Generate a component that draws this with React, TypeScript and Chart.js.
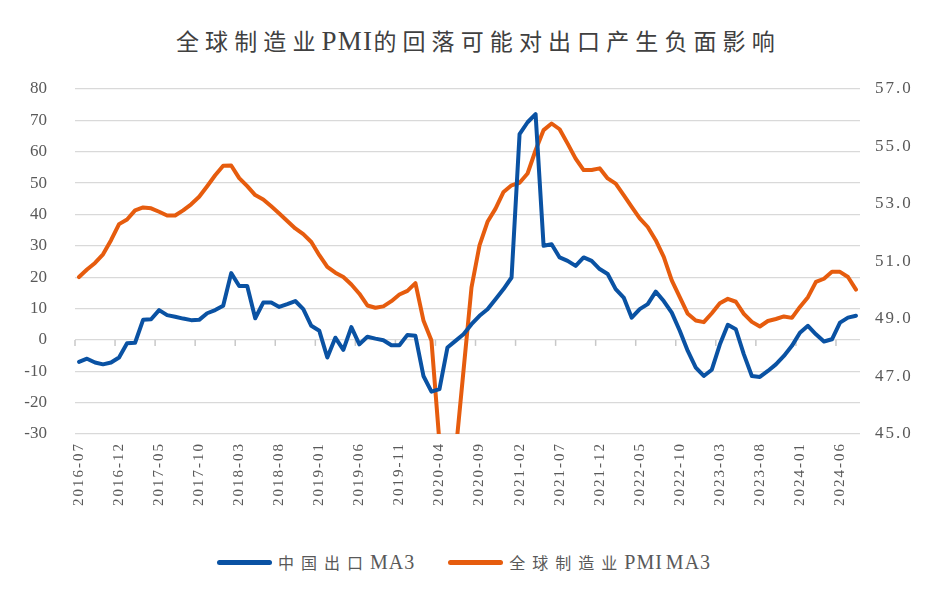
import { useEffect, useRef } from 'react';
import { Chart, registerables, CategoryScale, LinearScale } from 'chart.js';

class SpacedCategoryScale extends CategoryScale {
  static id = 'spacedCategory';
  static defaults = CategoryScale.defaults;
  drawLabels(chartArea: any) {
    const ctx = this.ctx as any;
    ctx.save();
    ctx.letterSpacing = '2px';
    super.drawLabels(chartArea);
    ctx.restore();
  }
}

class SpacedLinearScale extends LinearScale {
  static id = 'spacedLinear';
  static defaults = LinearScale.defaults;
  drawLabels(chartArea: any) {
    const ctx = this.ctx as any;
    ctx.save();
    ctx.letterSpacing = '2px';
    super.drawLabels(chartArea);
    ctx.restore();
  }
}

Chart.register(...registerables, SpacedCategoryScale, SpacedLinearScale);

const categories = [
  '2016-07', '2016-08', '2016-09', '2016-10', '2016-11', '2016-12',
  '2017-01', '2017-02', '2017-03', '2017-04', '2017-05', '2017-06', '2017-07', '2017-08', '2017-09', '2017-10', '2017-11', '2017-12',
  '2018-01', '2018-02', '2018-03', '2018-04', '2018-05', '2018-06', '2018-07', '2018-08', '2018-09', '2018-10', '2018-11', '2018-12',
  '2019-01', '2019-02', '2019-03', '2019-04', '2019-05', '2019-06', '2019-07', '2019-08', '2019-09', '2019-10', '2019-11', '2019-12',
  '2020-01', '2020-02', '2020-03', '2020-04', '2020-05', '2020-06', '2020-07', '2020-08', '2020-09', '2020-10', '2020-11', '2020-12',
  '2021-01', '2021-02', '2021-03', '2021-04', '2021-05', '2021-06', '2021-07', '2021-08', '2021-09', '2021-10', '2021-11', '2021-12',
  '2022-01', '2022-02', '2022-03', '2022-04', '2022-05', '2022-06', '2022-07', '2022-08', '2022-09', '2022-10', '2022-11', '2022-12',
  '2023-01', '2023-02', '2023-03', '2023-04', '2023-05', '2023-06', '2023-07', '2023-08', '2023-09', '2023-10', '2023-11', '2023-12',
  '2024-01', '2024-02', '2024-03', '2024-04', '2024-05', '2024-06', '2024-07', '2024-08',
];

// 中国出口MA3 (%), left axis
const chinaExportMA3 = [
  -7.0, -6.0, -7.2, -7.8, -7.2, -5.6,
  -1.1, -0.9, 6.4, 6.6, 9.5, 7.9, 7.4, 6.8, 6.3, 6.4, 8.5, 9.5,
  10.9, 21.3, 17.2, 17.2, 6.9, 11.9, 11.9, 10.5, 11.4, 12.4, 9.8, 4.5,
  2.9, -5.6, 0.7, -3.2, 4.1, -1.4, 1.0, 0.4, -0.1, -1.7, -1.7, 1.6,
  1.3, -11.5, -16.5, -15.7, -2.4, -0.3, 1.8, 5.0, 7.7, 9.8, 13.0, 16.2,
  19.9, 65.6, 69.4, 72.0, 30.0, 30.5, 26.3, 25.2, 23.6, 26.3, 25.2, 22.6,
  21.0, 16.2, 13.5, 7.1, 9.8, 11.4, 15.4, 12.4, 8.7, 2.9, -3.5, -8.8,
  -11.5, -9.5, -1.5, 4.8, 3.4, -4.6, -11.5, -11.8, -9.9, -7.8, -5.1, -1.9,
  2.3, 4.5, 1.8, -0.5, 0.2, 5.5, 7.1, 7.7,
];

// 全球制造业PMI MA3, right axis
const globalPmiMA3 = [
  50.46, 50.72, 50.95, 51.25, 51.74, 52.3,
  52.46, 52.78, 52.88, 52.85, 52.73, 52.6, 52.6, 52.78, 52.99, 53.25, 53.62, 54.0,
  54.33, 54.34, 53.9, 53.62, 53.31, 53.16, 52.92, 52.67, 52.41, 52.15, 51.95, 51.68,
  51.22, 50.81, 50.61, 50.46, 50.2, 49.88, 49.47, 49.39, 49.44, 49.62, 49.85, 49.98,
  50.25, 48.95, 48.25, 44.7, 43.2, 44.3, 47.2, 50.1, 51.56, 52.38, 52.84, 53.42,
  53.65, 53.74, 54.06, 54.87, 55.57, 55.8, 55.6, 55.1, 54.58, 54.18, 54.18, 54.24,
  53.89, 53.71, 53.31, 52.9, 52.5, 52.2, 51.74, 51.16, 50.34, 49.76, 49.18, 48.95,
  48.89, 49.2, 49.55, 49.7, 49.6, 49.18, 48.9, 48.74, 48.93, 49.0, 49.09, 49.04,
  49.42, 49.76, 50.29, 50.4, 50.64, 50.64, 50.46, 50.02,
];

const leftMin = -30;
const leftMax = 80;
const leftStep = 10;
const rightMin = 45;
const rightMax = 57;
const rightStep = 2;
const labelEvery = 5;

const BLUE = '#0A52A3';
const ORANGE = '#E65C0E';
const TEXT = '#595959';
const SERIF = "'Liberation Serif', 'Times New Roman', serif";
const CJK = "'Noto Sans CJK SC', sans-serif";

const zeroTicksPlugin = {
  id: 'zeroTicks',
  beforeDatasetsDraw(chart: any) {
    const x = chart.scales.x;
    const y = chart.scales.y;
    const ctx = chart.ctx;
    const half = (x.getPixelForValue(1) - x.getPixelForValue(0)) / 2;
    const y0 = y.getPixelForValue(0);
    ctx.save();
    ctx.strokeStyle = '#c8c8c8';
    ctx.lineWidth = 1.5;
    for (let i = 0; i < categories.length; i += labelEvery) {
      const px = x.getPixelForValue(i) - half;
      ctx.beginPath();
      ctx.moveTo(px, y0);
      ctx.lineTo(px, y0 + 6);
      ctx.stroke();
    }
    ctx.restore();
  },
};

export default function App() {
  const ref = useRef<HTMLCanvasElement>(null);

  useEffect(() => {
    const chart = new Chart(ref.current as HTMLCanvasElement, {
      type: 'line',
      data: {
        labels: categories,
        datasets: [
          {
            label: '中国出口MA3',
            data: chinaExportMA3,
            borderColor: BLUE,
            backgroundColor: BLUE,
            borderWidth: 4,
            pointRadius: 0,
            tension: 0,
            borderJoinStyle: 'round',
            borderCapStyle: 'round',
            yAxisID: 'y',
          },
          {
            label: '全球制造业PMI MA3',
            data: globalPmiMA3,
            borderColor: ORANGE,
            backgroundColor: ORANGE,
            borderWidth: 4,
            pointRadius: 0,
            tension: 0,
            borderJoinStyle: 'round',
            borderCapStyle: 'round',
            yAxisID: 'y1',
          },
        ],
      },
      options: {
        animation: false,
        responsive: true,
        maintainAspectRatio: false,
        layout: { padding: { top: 89, left: 0, right: 0, bottom: 0 } },
        plugins: {
          legend: { display: false },
          title: { display: false },
          tooltip: { enabled: false },
        },
        scales: {
          x: {
            type: 'spacedCategory' as any,
            offset: true,
            grid: { display: false, drawTicks: false },
            border: { display: false },
            ticks: {
              autoSkip: false,
              minRotation: 90,
              maxRotation: 90,
              padding: 8,
              color: TEXT,
              font: { family: SERIF, size: 15 },
              callback: (_v: any, i: number) => (i % labelEvery === 0 ? categories[i] : ''),
            },
            afterFit: (s: any) => {
              s.height = 96;
            },
          },
          y: {
            type: 'linear',
            position: 'left',
            min: leftMin,
            max: leftMax,
            grid: { color: '#d9d9d9', lineWidth: 1.3, drawTicks: false },
            border: { display: false },
            ticks: {
              stepSize: leftStep,
              padding: 28,
              color: TEXT,
              font: { family: SERIF, size: 17 },
            },
            afterFit: (s: any) => {
              s.width = 75;
            },
          },
          y1: {
            type: 'spacedLinear' as any,
            position: 'right',
            min: rightMin,
            max: rightMax,
            grid: { display: false, drawTicks: false },
            border: { display: false },
            ticks: {
              stepSize: rightStep,
              padding: 15,
              color: TEXT,
              font: { family: SERIF, size: 17 },
              callback: (v: any) => Number(v).toFixed(1),
            },
            afterFit: (s: any) => {
              s.width = 85;
            },
          },
        },
      },
      plugins: [zeroTicksPlugin],
    });
    return () => chart.destroy();
  }, []);

  const cjkTitle = { fontFamily: CJK, fontSize: 23, letterSpacing: '6.1px' };
  const latinTitle = { fontFamily: SERIF, fontSize: 27, letterSpacing: '1.3px' };
  const cjkLeg = { fontFamily: CJK, fontSize: 16, letterSpacing: '7px' };
  const latinLeg = { fontFamily: SERIF, fontSize: 20, letterSpacing: '1px' };
  const swatch = (c: string) => ({
    display: 'inline-block',
    width: 55,
    height: 5,
    borderRadius: 3,
    background: c,
    marginRight: 6,
  });

  return (
    <div style={{ position: 'absolute', left: 0, top: 0, width: 945, height: 602, background: '#fff', overflow: 'hidden' }}>
      <div
        style={{
          position: 'absolute',
          left: 176,
          top: 25,
          height: 30,
          lineHeight: '30px',
          whiteSpace: 'nowrap',
          color: '#404040',
        }}
      >
        <span style={cjkTitle}>全球制造业</span>
        <span style={latinTitle}>PMI</span>
        <span style={cjkTitle}>的回落可能对出口产生负面影响</span>
      </div>
      <div style={{ position: 'absolute', left: 0, top: 0, width: 945, height: 530 }}>
        <canvas ref={ref} />
      </div>
      <div
        style={{
          position: 'absolute',
          left: 217,
          top: 550,
          height: 24,
          display: 'flex',
          alignItems: 'center',
          whiteSpace: 'nowrap',
          color: TEXT,
        }}
      >
        <span style={swatch(BLUE)} />
        <span style={cjkLeg}>中国出口</span>
        <span style={latinLeg}>MA3</span>
        <span style={{ display: 'inline-block', width: 33 }} />
        <span style={swatch(ORANGE)} />
        <span style={cjkLeg}>全球制造业</span>
        <span style={latinLeg}>PMI</span>
        <span style={{ ...latinLeg, marginLeft: 3 }}>MA3</span>
      </div>
    </div>
  );
}
